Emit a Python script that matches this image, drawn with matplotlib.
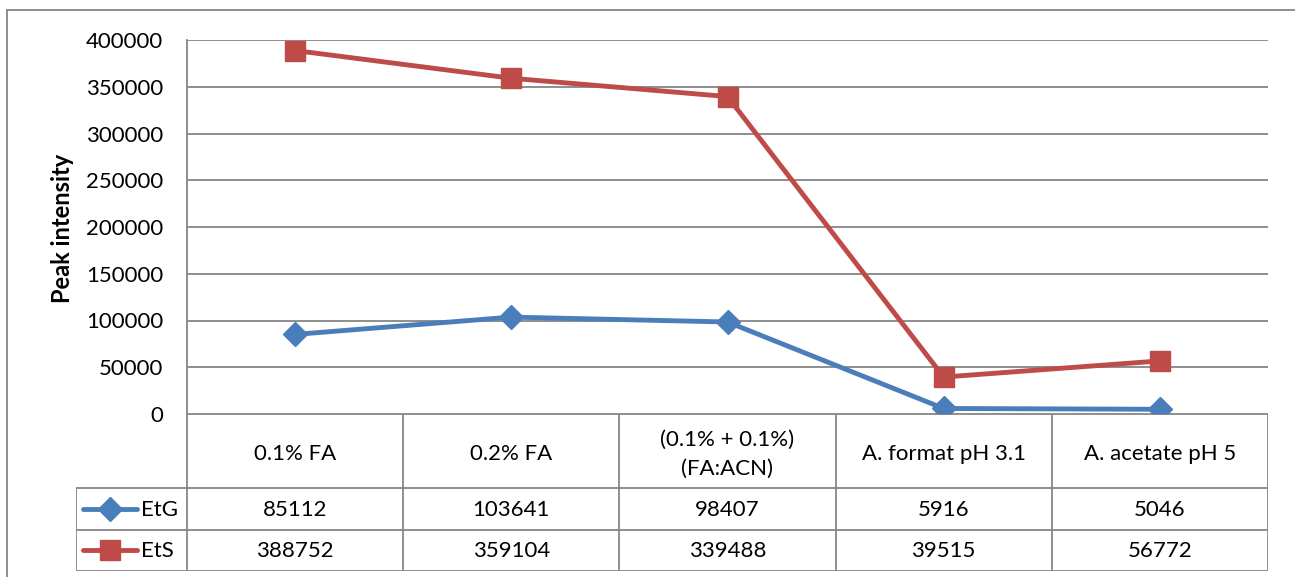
import matplotlib.pyplot as plt
from matplotlib.lines import Line2D

plt.rcParams['font.family'] = ['Lato', 'DejaVu Sans']

categories = ["0.1% FA", "0.2% FA", "(0.1% + 0.1%)\n(FA:ACN)",
              "A. format pH 3.1", "A. acetate pH 5"]
etg = [85112, 103641, 98407, 5916, 5046]
ets = [388752, 359104, 339488, 39515, 56772]
series_names = ["EtG", "EtS"]
yticks = [0, 50000, 100000, 150000, 200000, 250000, 300000, 350000, 400000]

W, H = 1295, 577
grid_c = "#868686"
blue = "#4A7EBB"
red = "#BE4B48"
fs = 16
lw = 3.5
markers = ["D", "s"]
msizes = [12, 14]

fig = plt.figure(figsize=(W / 100, H / 100), dpi=100)

# pixel -> figure fraction helpers
def fx(px):
    return px / W

def fy(py):
    return 1 - py / H

# outer chart border
fig.add_artist(plt.Rectangle((fx(7), fy(H + 5)), fx(W + 5) - fx(7), fy(10) - fy(H + 5),
                             fill=False, ec=grid_c, lw=1.3, transform=fig.transFigure))

ax = fig.add_axes([fx(187), fy(414), fx(1268) - fx(187), fy(40) - fy(414)])
x = [i + 0.5 for i in range(len(categories))]
ax.plot(x, etg, color=blue, lw=lw, marker=markers[0], ms=msizes[0], mec=blue, mfc=blue, zorder=3)
ax.plot(x, ets, color=red, lw=lw, marker=markers[1], ms=msizes[1], mec=red, mfc=red, zorder=3)
ax.set_xlim(0, len(categories))
ax.set_ylim(0, 400000)
ax.set_yticks(yticks)
ax.set_yticklabels([str(v) for v in yticks], fontsize=fs)
ax.tick_params(axis="y", length=0, pad=17)
ax.set_xticks([])
ax.grid(axis="y", color=grid_c, lw=1.3)
ax.set_axisbelow(True)
for s in ["top", "right", "bottom"]:
    ax.spines[s].set_visible(False)
ax.spines["left"].set_color(grid_c)
ax.spines["left"].set_linewidth(1.3)
fig.text(fx(62), fy(228), "Peak intensity", rotation=90, fontsize=17,
         fontweight="bold", ha="center", va="center")

# data table below the plot
tab = fig.add_axes([fx(76), fy(571), fx(1268) - fx(76), fy(414) - fy(571)])
tab.set_xlim(76, 1268)
tab.set_ylim(571, 414)
tab.axis("off")
col_edges = [187 + i * (1268 - 187) / len(categories) for i in range(len(categories) + 1)]
row_edges = [414, 488, 530, 571]
lk = dict(color=grid_c, lw=1.3, solid_capstyle="projecting")
for xe in col_edges:
    tab.plot([xe, xe], [414, 571], **lk)
tab.plot([76, 76], [488, 571], **lk)
tab.plot([187, 1268], [414, 414], **lk)
for ye in row_edges[1:]:
    tab.plot([76, 1268], [ye, ye], **lk)

for i, cat in enumerate(categories):
    cx = (col_edges[i] + col_edges[i + 1]) / 2
    tab.text(cx, (row_edges[0] + row_edges[1]) / 2 + 3, cat, ha="center", va="center",
             fontsize=fs, linespacing=1.55)
    for r, vals in enumerate([etg, ets]):
        tab.text(cx, (row_edges[r + 1] + row_edges[r + 2]) / 2 + 1, str(vals[i]),
                 ha="center", va="center", fontsize=fs)

for r, (name, c) in enumerate(zip(series_names, [blue, red])):
    yc = (row_edges[r + 1] + row_edges[r + 2]) / 2
    tab.add_line(Line2D([83, 137], [yc, yc], color=c, lw=lw, solid_capstyle="round"))
    tab.add_line(Line2D([110], [yc], color=c, marker=markers[r], ms=msizes[r], mfc=c, mec=c))
    tab.text(141, yc + 1, name, ha="left", va="center", fontsize=fs)

fig.savefig("out.png", dpi=100)
